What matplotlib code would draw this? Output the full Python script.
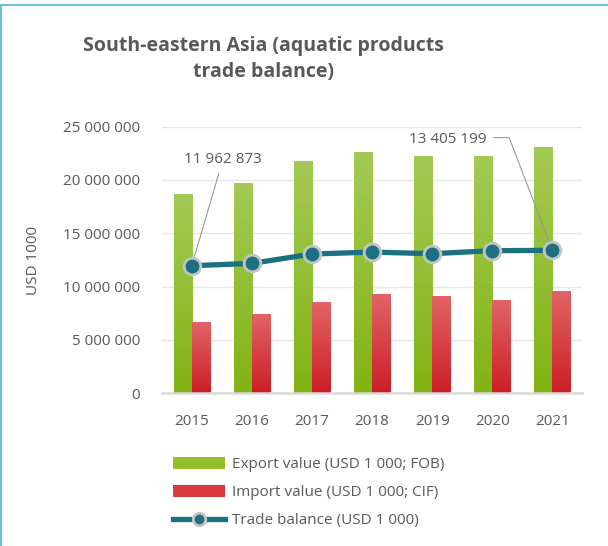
import numpy as np
import matplotlib.pyplot as plt
from matplotlib.colors import LinearSegmentedColormap
from matplotlib.lines import Line2D
from matplotlib.patches import Patch

plt.rcParams['font.family'] = ['Open Sans', 'DejaVu Sans']

years = ["2015", "2016", "2017", "2018", "2019", "2020", "2021"]
export_val = [18680000, 19710000, 21770000, 22620000, 22240000, 22240000, 23090000]
import_val = [6680000, 7430000, 8560000, 9310000, 9120000, 8750000, 9590000]
balance = [11962873, 12180000, 13060000, 13240000, 13090000, 13370000, 13405199]

grey = "#595959"
green_top, green_bot = "#a3ca55", "#82b414"
red_top, red_bot = "#e26466", "#cc1f26"
teal = "#1d7080"

fig = plt.figure(figsize=(6.08, 5.46), dpi=100)
ax = fig.add_axes([0.266, 0.2797, 0.692, 0.4883])

x = np.arange(len(years))
w = 0.3
b1 = ax.bar(x - w / 2, export_val, w, color=green_bot, zorder=2)
b2 = ax.bar(x + w / 2, import_val, w, color=red_bot, zorder=2)


def gradient(bars, top, bot):
    cmap = LinearSegmentedColormap.from_list("g", [bot, top])
    grad = np.linspace(0, 1, 100).reshape(-1, 1)
    for r in bars:
        x0, y0 = r.get_x(), r.get_y()
        im = ax.imshow(grad, cmap=cmap, origin="lower", aspect="auto",
                       extent=[x0, x0 + r.get_width(), y0, y0 + r.get_height()],
                       zorder=2.1)
        im.set_clip_path(r)


gradient(b1, green_top, green_bot)
gradient(b2, red_top, red_bot)

ax.plot(x, balance, color=teal, lw=3.8, marker="o", ms=12,
        mfc=teal, mec="#c4c4c4", mew=2, zorder=4)

ax.set_xlim(-0.5, len(years) - 0.5)
ax.set_ylim(0, 25000000)
ax.set_yticks(np.arange(0, 25000001, 5000000))
ax.set_yticklabels([f"{int(v):,}".replace(",", " ") for v in ax.get_yticks()])
ax.set_xticks(x)
ax.set_xticklabels(years)
ax.tick_params(axis="both", length=0, colors=grey, labelsize=11)
ax.tick_params(axis="x", pad=15)
ax.tick_params(axis="y", pad=15.5)
ax.grid(axis="y", color="#e6e6e6", lw=1, zorder=0)
for s in ["top", "right", "left"]:
    ax.spines[s].set_visible(False)
ax.spines["bottom"].set_color("#d9d9d9")
ax.spines["bottom"].set_linewidth(1.8)
ax.set_axisbelow(True)

ax.set_ylabel("USD 1000", color=grey, fontsize=11, labelpad=16)

ann = dict(color="#999999", lw=0.8, shrinkA=3, shrinkB=2)
ax.annotate(f"{balance[0]:,}".replace(",", " "), xy=(x[0], balance[0]),
            xytext=(0.52, 21960000), ha="center", va="center",
            color=grey, fontsize=11,
            arrowprops=dict(arrowstyle="-", **ann))
ax.annotate(f"{balance[-1]:,}".replace(",", " "), xy=(x[-1], balance[-1]),
            xytext=(4.26, 23830000), ha="center", va="center",
            color=grey, fontsize=11,
            arrowprops=dict(arrowstyle="-", relpos=(1, 0.6),
                            connectionstyle="angle,angleA=0,angleB=111,rad=0",
                            **ann))

fig.text(0.433, 0.892, "South-eastern Asia (aquatic products\ntrade balance)",
         ha="center", va="center", fontsize=14, fontweight="bold",
         color=grey, linespacing=1.45)

handles = [Patch(facecolor="#93bf2c", edgecolor="none"),
           Patch(facecolor="#d83a3e", edgecolor="none"),
           Line2D([], [], color=teal, lw=3.8, marker="o", ms=9,
                  mfc=teal, mec="#c4c4c4", mew=2)]
labels = ["Export value (USD 1 000; FOB)", "Import value (USD 1 000; CIF)",
          "Trade balance (USD 1 000)"]
fig.legend(handles, labels, loc="upper left", bbox_to_anchor=(0.284, 0.163),
           frameon=False, fontsize=11, labelcolor=grey, handlelength=3.4,
           handleheight=0.8, handletextpad=0.5, labelspacing=0.85,
           borderaxespad=0, borderpad=0)

border = "#6cc0d6"
fig.add_artist(Line2D([0.002, 0.002], [0, 0.99], color=border, lw=1.5,
                      transform=fig.transFigure))
fig.add_artist(Line2D([0.002, 1], [0.99, 0.99], color=border, lw=1.5,
                      transform=fig.transFigure))

fig.savefig("out.png", dpi=100)
